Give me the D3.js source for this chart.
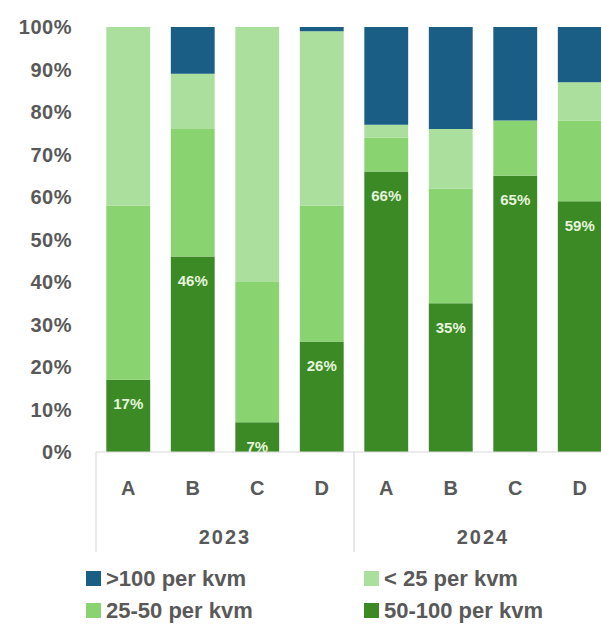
<!DOCTYPE html>
<html>
<head>
<meta charset="utf-8">
<script src="https://cdn.jsdelivr.net/npm/d3@7"></script>
<style>
  html, body { margin: 0; padding: 0; background: #fff; }
  svg { display: block; }
  text { font-family: "Liberation Sans Narrow", "Liberation Sans", Arial, sans-serif; fill: #595959; }
</style>
</head>
<body>
<div id="chart"></div>
<script>
const years = ['2023', '2024']
const groups = ['A', 'B', 'C', 'D']
const seriesKeys = ['50-100', '25-50', 'lt25', 'gt100']
const seriesLabels = {
  'gt100': '>100 per kvm',
  'lt25': '< 25 per kvm',
  '25-50': '25-50 per kvm',
  '50-100': '50-100 per kvm',
}
const colors = {
  'gt100': '#1a5e86',
  'lt25': '#abdf9d',
  '25-50': '#89d471',
  '50-100': '#3b8a26',
}
// order: 2023 A-D, 2024 A-D
const v50to100 = [17, 46, 7, 26, 66, 35, 65, 59]
const v25to50 = [41, 30, 33, 32, 8, 27, 13, 19]
const vLt25 = [42, 13, 60, 41, 3, 14, 0, 9]
const vGt100 = [0, 11, 0, 1, 23, 24, 22, 13]
const yTicks = [0, 10, 20, 30, 40, 50, 60, 70, 80, 90, 100]

const W = 601, H = 634
const plotLeft = 96, plotTop = 27, plotBottom = 452
const step = 64.5
const plotRight = plotLeft + step * 8

const rows = []
years.forEach((yr, yi) => groups.forEach((g, gi) => {
  const i = yi * 4 + gi
  rows.push({ key: `${yr}-${g}`, year: yr, group: g,
    '50-100': v50to100[i], '25-50': v25to50[i], 'lt25': vLt25[i], 'gt100': vGt100[i] })
}))

const svg = d3.select('#chart').append('svg').attr('width', W).attr('height', H)

const x = d3.scaleBand().domain(rows.map((d) => d.key)).range([plotLeft, plotRight]).paddingInner(0.32).paddingOuter(0.16)
const y = d3.scaleLinear().domain([0, 100]).range([plotBottom, plotTop])

// y axis labels
svg.append('g').selectAll('text').data(yTicks).join('text')
  .attr('x', 72).attr('y', (d) => y(d)).attr('dy', '0.35em')
  .attr('text-anchor', 'end')
  .style('font-size', '20px').style('font-weight', 'bold').style('letter-spacing', '0.5px')
  .text((d) => `${d}%`)

const stack = d3.stack().keys(seriesKeys)(rows)

svg.append('g').selectAll('g').data(stack).join('g')
  .attr('fill', (s) => colors[s.key])
  .selectAll('rect').data((s) => s).join('rect')
  .attr('x', (d) => x(d.data.key))
  .attr('width', x.bandwidth())
  .attr('y', (d) => y(d[1]))
  .attr('height', (d) => y(d[0]) - y(d[1]))

// labels for 50-100 segment
svg.append('g').selectAll('text').data(stack[0]).join('text')
  .attr('x', (d) => x(d.data.key) + x.bandwidth() / 2)
  .attr('y', (d) => y(d[1]) + 24)
  .attr('dy', '0.35em')
  .attr('text-anchor', 'middle')
  .style('font-size', '15px').style('font-weight', 'bold').style('fill', '#e6f4dc')
  .text((d) => `${d.data['50-100']}%`)

// axis line and separators
const axisColor = '#d9d9d9'
svg.append('line').attr('x1', plotLeft).attr('x2', plotRight).attr('y1', plotBottom).attr('y2', plotBottom)
  .attr('stroke', axisColor).attr('stroke-width', 1.2)
const seps = [plotLeft, plotLeft + step * 4, plotRight]
svg.append('g').selectAll('line').data(seps).join('line')
  .attr('x1', (d) => d).attr('x2', (d) => d).attr('y1', plotBottom).attr('y2', 552)
  .attr('stroke', axisColor).attr('stroke-width', 1.2)

// category labels
svg.append('g').selectAll('text').data(rows).join('text')
  .attr('x', (d) => x(d.key) + x.bandwidth() / 2)
  .attr('y', 488).attr('dy', '0.35em')
  .attr('text-anchor', 'middle')
  .style('font-size', '20px').style('font-weight', 'bold')
  .text((d) => d.group)

// year labels
svg.append('g').selectAll('text').data(years).join('text')
  .attr('x', (d, i) => plotLeft + step * 4 * i + step * 2)
  .attr('y', 537).attr('dy', '0.35em')
  .attr('text-anchor', 'middle')
  .style('font-size', '20px').style('font-weight', 'bold').style('letter-spacing', '2px')
  .text((d) => d)

// legend
const legendItems = [
  { key: 'gt100', col: 0, row: 0 },
  { key: 'lt25', col: 1, row: 0 },
  { key: '25-50', col: 0, row: 1 },
  { key: '50-100', col: 1, row: 1 },
]
const lg = svg.append('g').selectAll('g').data(legendItems).join('g')
  .attr('transform', (d) => `translate(${d.col ? 364 : 86},${d.row ? 610 : 578})`)
lg.append('rect').attr('x', 0).attr('y', -7).attr('width', 15).attr('height', 15)
  .attr('fill', (d) => colors[d.key])
lg.append('text').attr('x', 20).attr('dy', '0.35em')
  .style('font-size', '22px').style('font-weight', 'bold')
  .text((d) => seriesLabels[d.key])
</script>
</body>
</html>
